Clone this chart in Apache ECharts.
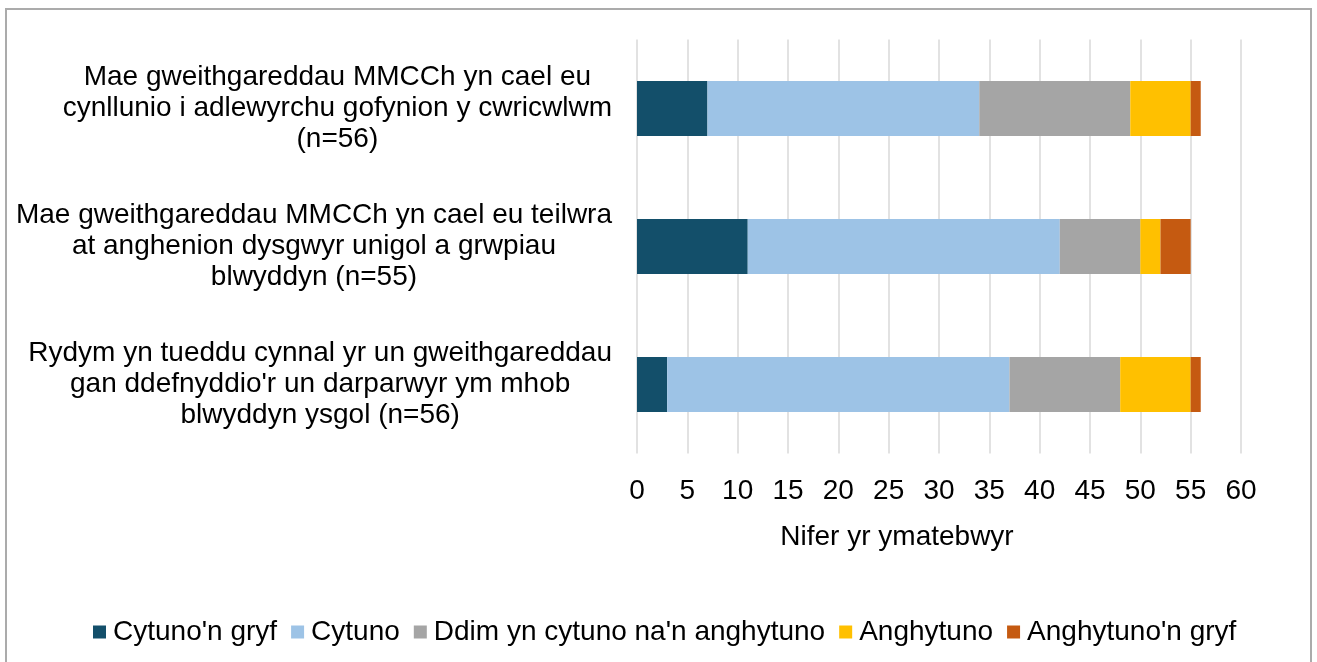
<!DOCTYPE html>
<html>
<head>
<meta charset="utf-8">
<script src="https://cdn.jsdelivr.net/npm/echarts@6/dist/echarts.min.js"></script>
<style>
html,body{margin:0;padding:0;background:#fff;}
#chart{width:1317px;height:662px;}
</style>
</head>
<body>
<div id="chart"></div>
<script>
var categories = [
  "Mae gweithgareddau MMCCh yn cael eu\ncynllunio i adlewyrchu gofynion y cwricwlwm\n(n=56)",
  "Mae gweithgareddau MMCCh yn cael eu teilwra\nat anghenion dysgwyr unigol a grwpiau\nblwyddyn (n=55)",
  "Rydym yn tueddu cynnal yr un gweithgareddau\ngan ddefnyddio'r un darparwyr ym mhob\nblwyddyn ysgol (n=56)"
];
var seriesNames = ["Cytuno'n gryf", "Cytuno", "Ddim yn cytuno na'n anghytuno", "Anghytuno", "Anghytuno'n gryf"];
var cytunoGryf = [7, 11, 3];
var cytuno = [27, 31, 34];
var ddim = [15, 8, 11];
var anghytuno = [6, 2, 7];
var anghytunoGryf = [1, 3, 1];
var xTicks = [0, 5, 10, 15, 20, 25, 30, 35, 40, 45, 50, 55, 60];
var axisTitle = "Nifer yr ymatebwyr";
var colors = ["#134f6a", "#9dc3e6", "#a5a5a5", "#ffc000", "#c55a11"];

var values = [cytunoGryf, cytuno, ddim, anghytuno, anghytunoGryf];
var FONT = "'Liberation Sans', Arial, sans-serif";

var series = seriesNames.map(function (n, i) {
  return {
    name: n,
    type: 'bar',
    stack: 'total',
    barWidth: 55,
    itemStyle: { color: colors[i] },
    data: values[i]
  };
});

var chart = echarts.init(document.getElementById('chart'), null, { renderer: 'canvas' });
chart.setOption({
  animation: false,
  backgroundColor: '#ffffff',
  textStyle: { fontFamily: FONT },
  grid: { left: 637, right: 76, top: 39.5, bottom: 208.5, containLabel: false },
  xAxis: {
    type: 'value',
    min: xTicks[0],
    max: xTicks[xTicks.length - 1],
    interval: xTicks[1] - xTicks[0],
    axisLine: { show: false },
    axisTick: { show: false },
    axisLabel: { fontSize: 28, color: '#000', margin: 24, fontFamily: FONT },
    splitLine: { show: true, lineStyle: { color: '#d9d9d9', width: 1.5 } }
  },
  yAxis: {
    type: 'category',
    inverse: true,
    data: categories,
    axisLine: { show: false },
    axisTick: { show: false },
    axisLabel: {
      margin: 25,
      align: 'right',
      formatter: function (v) {
        return v.split('\n').map(function (l) { return '{c|' + l + '}'; }).join('\n');
      },
      rich: {
        c: { fontSize: 28, color: '#000', lineHeight: 31, align: 'center', fontFamily: FONT }
      }
    },
    splitLine: { show: false }
  },
  legend: {
    data: seriesNames,
    left: 88,
    top: 613,
    icon: 'rect',
    itemWidth: 13,
    itemHeight: 13,
    itemGap: 14,
    textStyle: { fontSize: 28, color: '#000', fontFamily: FONT, padding: [0, 0, 0, 2] }
  },
  graphic: [
    {
      type: 'rect',
      shape: { x: 6, y: 9, width: 1305, height: 680 },
      style: { fill: 'none', stroke: '#ababab', lineWidth: 2 },
      silent: true
    },
    {
      type: 'text',
      x: 897, y: 537,
      style: {
        text: axisTitle, fontSize: 28, fill: '#000', fontFamily: FONT,
        textAlign: 'center', textVerticalAlign: 'middle'
      }
    }
  ],
  series: series
});
</script>
</body>
</html>
